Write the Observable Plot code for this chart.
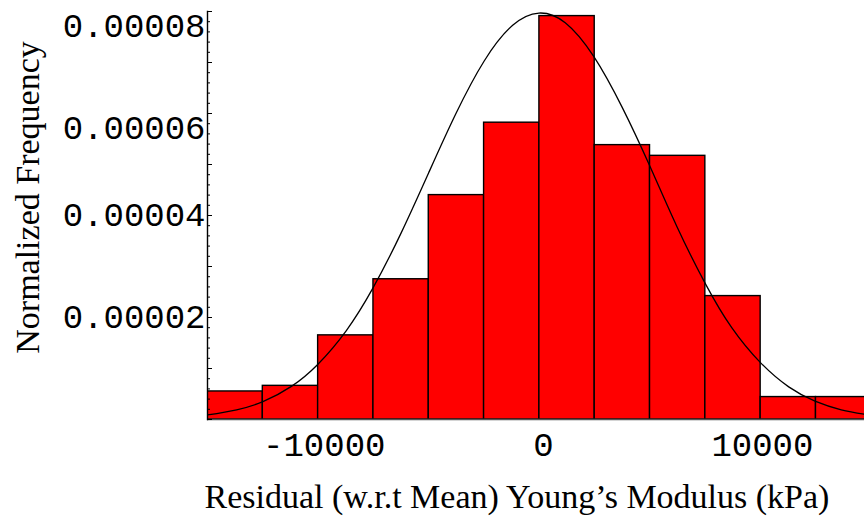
<!DOCTYPE html>
<html><head><meta charset="utf-8">
<script src="https://cdn.jsdelivr.net/npm/d3@7"></script>
<script src="https://cdn.jsdelivr.net/npm/@observablehq/plot@0.6"></script>
<style>body{margin:0;background:#fff;} svg{display:block;}</style>
</head><body><div id="chart"></div>
<script>
// Histogram bins (residual Young's modulus, kPa) and normalized frequencies
const binStart = [-15330, -12805, -10280, -7755, -5230, -2705, -180, 2345, 4870, 7395, 9920, 12445];
const binEnd   = [-12805, -10280, -7755, -5230, -2705, -180, 2345, 4870, 7395, 9920, 12445, 14970];
const frequency = [0.0000055, 0.0000066, 0.0000165, 0.0000275, 0.0000440, 0.0000582, 0.0000791, 0.0000538, 0.0000517, 0.0000242, 0.0000044, 0.0000044];

// Fitted normal curve
const curveX = [-15330, -14000, -12800, -11500, -10300, -9000, -7800, -6500, -5200, -4000, -2700, -1400, -200, 1000, 2300, 3600, 4850, 6100, 7400, 8600, 9900, 11200, 12400, 13600, 14660];
const curveY = [0.00000089, 0.0000019, 0.0000035, 0.0000065, 0.0000108, 0.0000174, 0.0000256, 0.0000365, 0.0000487, 0.0000599, 0.0000703, 0.0000773, 0.0000797, 0.0000778, 0.0000712, 0.0000612, 0.0000498, 0.0000378, 0.0000266, 0.0000180, 0.0000112, 0.0000064, 0.0000036, 0.0000019, 0.00000105];

// Axes
const xDomain = [-15330, 14660];
const yDomain = [0, 0.00008];
const xTicks = [-10000, 0, 10000];
const yLabelTicksLow = [0.00002, 0.00004];
const yLabelTicksHigh = [0.00006, 0.00008];
const yMajorTicks = [0, 0.00001, 0.00002, 0.00003, 0.00004, 0.00005, 0.00006, 0.00007, 0.00008];
const yMinorTicks = d3.range(0, 40).map(i => i * 0.000002);
const xLabel = "Residual (w.r.t Mean) Young\u2019s Modulus (kPa)";
const yLabel = "Normalized Frequency";

const bins = binStart.map((x1, i) => ({x1, x2: binEnd[i], f: frequency[i]}));
const curve = curveX.map((x, i) => ({x, y: curveY[i]}));

const mono = "Liberation Mono, Courier New, monospace";
const serif = "Liberation Serif, Times New Roman, serif";
const fmt = d => d.toFixed(5);

const chart = Plot.plot({
  width: 864, height: 517,
  marginLeft: 207, marginRight: 0, marginTop: 11, marginBottom: 98,
  x: {domain: xDomain},
  y: {domain: yDomain},
  style: {background: "white", fontFamily: mono, color: "black"},
  marks: [
    Plot.rect(bins, {x1: "x1", x2: "x2", y1: 0, y2: "f", fill: "#ff0000", stroke: "black", strokeWidth: 1.4, clip: true}),
    Plot.line(curve, {x: "x", y: "y", curve: "natural", stroke: "black", strokeWidth: 1.3, clip: true}),
    Plot.ruleY([0], {stroke: "#555", strokeWidth: 1.6}),
    Plot.frame({anchor: "left", stroke: "black", strokeWidth: 1.4}),
    Plot.axisY(yMinorTicks, {tickSize: 3, dx: 3, tickFormat: () => "", label: null}),
    Plot.axisY(yMajorTicks, {tickSize: 5, dx: 5, tickFormat: () => "", label: null}),
    Plot.axisY(yLabelTicksLow, {tickSize: 0, tickPadding: 2, tickFormat: fmt, fontSize: 34, fontFamily: mono, label: null}),
    Plot.axisY(yLabelTicksHigh, {tickSize: 0, tickPadding: 2, dy: 15, tickFormat: fmt, fontSize: 34, fontFamily: mono, label: null}),
    Plot.axisX(xTicks, {tickSize: 0, tickPadding: 12, tickFormat: d => String(d), fontSize: 34, fontFamily: mono, label: null}),
    Plot.text([yLabel], {frameAnchor: "left", textAnchor: "middle", lineAnchor: "middle", rotate: -90, dx: -179, dy: -18, fontSize: 34, fontFamily: serif}),
    Plot.text([xLabel], {frameAnchor: "bottom", textAnchor: "middle", lineAnchor: "middle", dx: -19, dy: 78, fontSize: 34, fontFamily: serif})
  ]
});
document.getElementById("chart").appendChild(chart);
</script>
</body></html>
